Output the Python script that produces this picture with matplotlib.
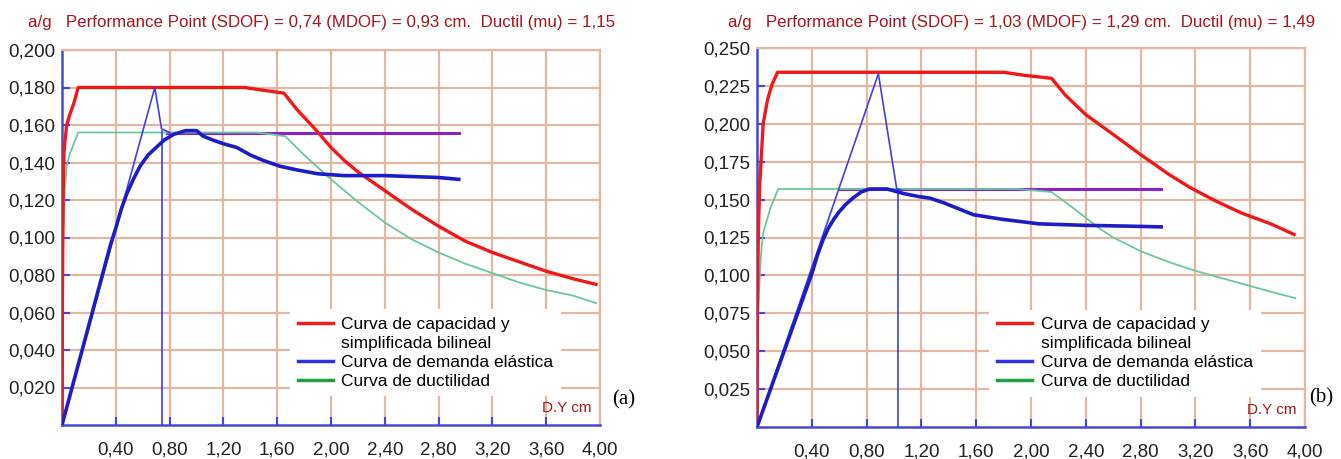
import matplotlib
matplotlib.use('Agg')
import matplotlib.pyplot as plt
from matplotlib.lines import Line2D

# ---- panel (a) data ----
cap_a_x = [0, 0.003, 0.006, 0.01, 0.015, 0.02, 0.035, 0.06, 0.09, 0.12, 1.36, 1.45, 1.55, 1.65,
           1.75, 1.88, 2.0, 2.1, 2.2, 2.4, 2.6, 2.8, 3.0, 3.2, 3.4, 3.6, 3.8, 3.97]
cap_a_y = [0, 0.07, 0.10, 0.13, 0.145, 0.15, 0.16, 0.166, 0.172, 0.180, 0.180, 0.179, 0.178, 0.177,
           0.168, 0.158, 0.148, 0.141, 0.135, 0.125, 0.115, 0.106, 0.098, 0.092, 0.087, 0.082, 0.078, 0.075]
duct_a_x = [0, 0.004, 0.01, 0.02, 0.035, 0.06, 0.12, 1.45, 1.66, 1.8, 2.0, 2.2, 2.4, 2.6, 2.8,
            3.0, 3.2, 3.4, 3.6, 3.8, 3.97]
duct_a_y = [0, 0.07, 0.105, 0.125, 0.138, 0.145, 0.156, 0.156, 0.154, 0.144, 0.131, 0.119, 0.108,
            0.099, 0.092, 0.086, 0.081, 0.076, 0.072, 0.069, 0.065]
elas_a_x = [0, 0.69, 0.74, 0.80]
elas_a_y = [0, 0.180, 0.158, 0.156]
dem_a_x = [0, 0.36, 0.40, 0.44, 0.48, 0.53, 0.58, 0.64, 0.70, 0.76, 0.83, 0.92, 1.00, 1.05, 1.12,
           1.20, 1.30, 1.40, 1.50, 1.62, 1.75, 1.90, 2.10, 2.40, 2.80, 2.95]
dem_a_y = [0, 0.096, 0.105, 0.115, 0.123, 0.131, 0.138, 0.144, 0.148, 0.152, 0.155, 0.157, 0.157,
           0.154, 0.152, 0.150, 0.148, 0.144, 0.141, 0.138, 0.136, 0.134, 0.133, 0.133, 0.132, 0.131]
pp_a = 0.74
pp_a_top = 0.157
bil_a_x = [0.78, 2.95]
bil_a_y = [0.156, 0.156]
yticks_a = [0.02, 0.04, 0.06, 0.08, 0.10, 0.12, 0.14, 0.16, 0.18, 0.20]
ylabels_a = ['0,020', '0,040', '0,060', '0,080', '0,100', '0,120', '0,140', '0,160', '0,180', '0,200']
title_a = 'a/g   Performance Point (SDOF) = 0,74 (MDOF) = 0,93 cm.  Ductil (mu) = 1,15'

# ---- panel (b) data ----
cap_b_x = [0, 0.003, 0.006, 0.01, 0.02, 0.045, 0.077, 0.11, 0.15, 1.80, 1.95, 2.15, 2.25, 2.40,
           2.60, 2.78, 3.0, 3.16, 3.35, 3.54, 3.75, 3.92]
cap_b_y = [0, 0.08, 0.10, 0.13, 0.16, 0.200, 0.216, 0.226, 0.234, 0.234, 0.232, 0.230, 0.219, 0.206,
           0.193, 0.181, 0.167, 0.158, 0.149, 0.141, 0.134, 0.127]
duct_b_x = [0, 0.005, 0.015, 0.03, 0.045, 0.10, 0.155, 1.90, 2.15, 2.30, 2.50, 2.60, 2.80, 3.0,
            3.2, 3.4, 3.6, 3.8, 3.93]
duct_b_y = [0, 0.06, 0.09, 0.115, 0.128, 0.145, 0.157, 0.157, 0.155, 0.145, 0.131, 0.125, 0.116,
            0.109, 0.103, 0.098, 0.093, 0.088, 0.085]
elas_b_x = [0, 0.886, 1.02, 1.06]
elas_b_y = [0, 0.233, 0.157, 0.156]
dem_b_x = [0, 0.36, 0.40, 0.44, 0.48, 0.52, 0.56, 0.60, 0.65, 0.70, 0.76, 0.82, 0.95, 1.07, 1.18,
           1.26, 1.36, 1.47, 1.58, 1.79, 2.06, 2.40, 2.71, 2.95]
dem_b_y = [0, 0.091, 0.101, 0.113, 0.123, 0.131, 0.137, 0.142, 0.147, 0.151, 0.155, 0.157, 0.157,
           0.154, 0.152, 0.151, 0.148, 0.144, 0.140, 0.137, 0.134, 0.133, 0.1325, 0.132]
pp_b = 1.03
pp_b_top = 0.157
bil_b_x = [0.60, 2.95]
bil_b_y = [0.157, 0.157]
yticks_b = [0.025, 0.05, 0.075, 0.10, 0.125, 0.15, 0.175, 0.20, 0.225, 0.25]
ylabels_b = ['0,025', '0,050', '0,075', '0,100', '0,125', '0,150', '0,175', '0,200', '0,225', '0,250']
title_b = 'a/g   Performance Point (SDOF) = 1,03 (MDOF) = 1,29 cm.  Ductil (mu) = 1,49'

xticks = [0.4, 0.8, 1.2, 1.6, 2.0, 2.4, 2.8, 3.2, 3.6, 4.0]
xlabels = ['0,40', '0,80', '1,20', '1,60', '2,00', '2,40', '2,80', '3,20', '3,60', '4,00']
legend_labels = ['Curva de capacidad y', 'simplificada bilineal',
                 'Curva de demanda elástica', 'Curva de ductilidad']

GRID = '#e3b7a2'
AXBLUE = '#4848d8'
TITLE_RED = '#a8141e'
FONT = 'Liberation Sans'

W, H = 1341, 459
fig = plt.figure(figsize=(W / 100, H / 100), dpi=100)
fig.patch.set_facecolor('white')


def panel(rect, cap, duct, elas, dem, bil, pp, pp_top, yt, yl, ymax, title, tag, tag_xy, title_x):
    ax = fig.add_axes([rect[0] / W, 1 - rect[3] / H, (rect[2] - rect[0]) / W, (rect[3] - rect[1]) / H])
    ax.set_xlim(0, 4.0)
    ax.set_ylim(0, ymax)
    ax.set_xticks(xticks)
    ax.set_xticklabels(xlabels)
    ax.set_yticks(yt)
    ax.set_yticklabels(yl)
    ax.grid(True, color=GRID, linewidth=1.6)
    ax.set_axisbelow(True)
    for s in ['top', 'right']:
        ax.spines[s].set_color(GRID)
        ax.spines[s].set_linewidth(1.6)
    for s in ['left', 'bottom']:
        ax.spines[s].set_color(AXBLUE)
        ax.spines[s].set_linewidth(1.8)
    ax.tick_params(axis='both', direction='in', color=AXBLUE, width=1.5, length=6,
                   labelcolor='#222222')
    ax.tick_params(axis='x', pad=12)
    ax.tick_params(axis='y', pad=5)
    for lab in ax.get_xticklabels() + ax.get_yticklabels():
        lab.set_family(FONT)
        lab.set_fontsize(13.5)

    ax.plot(bil[0], bil[1], color='#8a22c8', lw=2.2, zorder=3)
    ax.plot(duct[0], duct[1], color='#6cc89c', lw=1.3, zorder=3)
    ax.plot(cap[0], cap[1], color='#f01818', lw=2.4, zorder=4)
    ax.plot(elas[0], elas[1], color='#4040e0', lw=1.2, zorder=5)
    ax.plot([pp, pp], [0, pp_top], color='#4040e0', lw=1.2, zorder=5)
    ax.plot(dem[0], dem[1], color='#1c1cc8', lw=2.6, zorder=5)

    handles = [Line2D([], [], color='#f02020', lw=2.5),
               Line2D([], [], color='none'),
               Line2D([], [], color='#3030e0', lw=2.5),
               Line2D([], [], color='#20a040', lw=2.5)]
    leg = ax.legend(handles, legend_labels, loc='upper left', bbox_to_anchor=(0.424, 0.31),
                    borderaxespad=0, frameon=True, fancybox=False, framealpha=1,
                    facecolor='white', edgecolor='none', handlelength=2.0,
                    handletextpad=0.5, labelspacing=0.22, borderpad=0.45,
                    prop={'family': FONT, 'size': 12.5})
    leg.set_zorder(10)

    ax.text(0.985, 0.045, 'D.Y cm', transform=ax.transAxes, ha='right', va='center',
            color=TITLE_RED, fontsize=11, family=FONT, zorder=11)
    fig.text(tag_xy[0] / W, 1 - tag_xy[1] / H, tag, ha='left', va='center',
             fontsize=15, family='Liberation Serif')
    fig.text(title_x / W, 1 - 22 / H, title, ha='left', va='center', color=TITLE_RED,
             fontsize=12.2, family=FONT)
    return ax


panel((62, 50, 600, 425), (cap_a_x, cap_a_y), (duct_a_x, duct_a_y), (elas_a_x, elas_a_y),
      (dem_a_x, dem_a_y), (bil_a_x, bil_a_y), pp_a, pp_a_top, yticks_a, ylabels_a, 0.20,
      title_a, '(a)', (612, 400), 28)
panel((757, 48, 1305, 427), (cap_b_x, cap_b_y), (duct_b_x, duct_b_y), (elas_b_x, elas_b_y),
      (dem_b_x, dem_b_y), (bil_b_x, bil_b_y), pp_b, pp_b_top, yticks_b, ylabels_b, 0.25,
      title_b, '(b)', (1309, 398), 728)

fig.savefig('out.png', dpi=100)
